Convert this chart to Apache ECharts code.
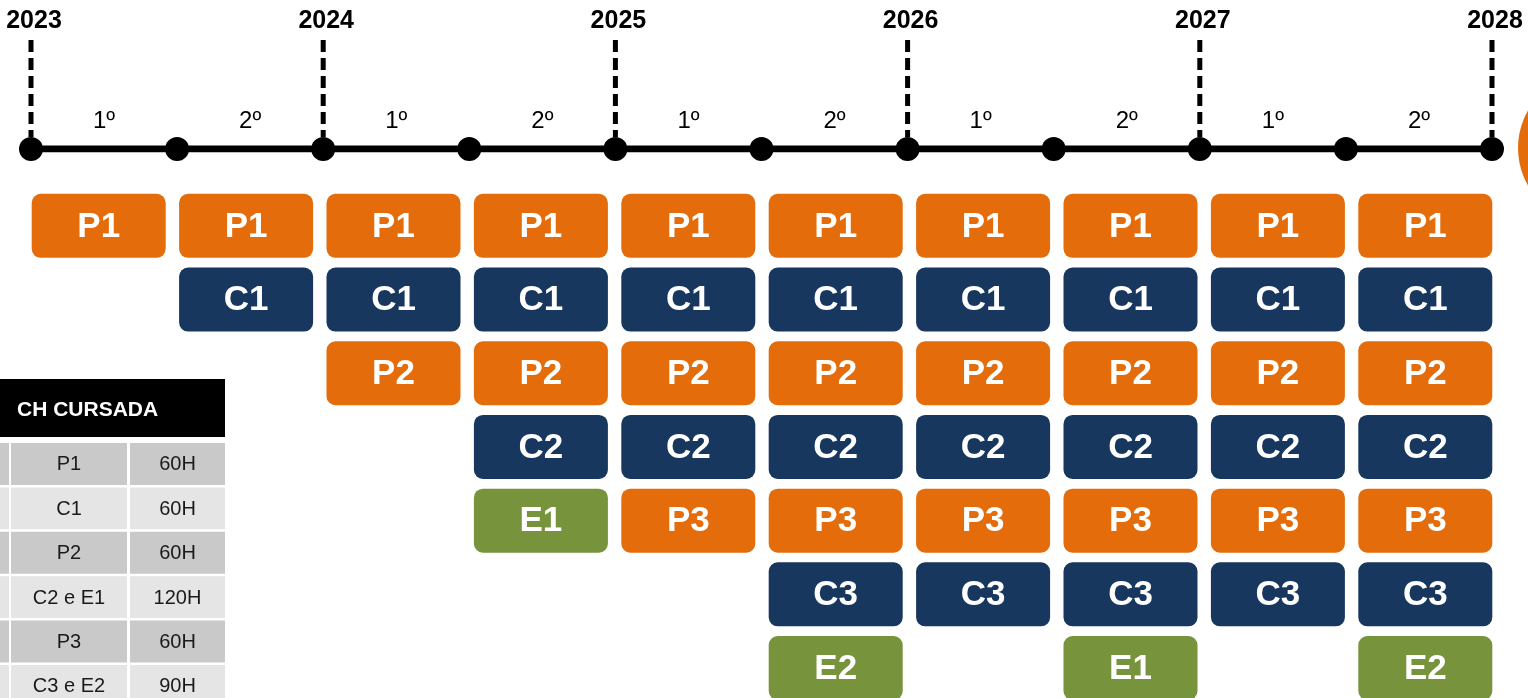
<!DOCTYPE html>
<html>
<head>
<meta charset="utf-8">
<script src="https://cdn.jsdelivr.net/npm/echarts@6/dist/echarts.min.js"></script>
<style>
  html, body { margin: 0; padding: 0; background: #fff; }
  #main { width: 1528px; height: 698px; }
</style>
</head>
<body>
<div id="main"></div>
<script>
// dados
const years = ['2023', '2024', '2025', '2026', '2027', '2028'];
const semesters = ['1º', '2º', '1º', '2º', '1º', '2º', '1º', '2º', '1º', '2º'];
const semesterCourses = [
  ['P1'],
  ['P1', 'C1'],
  ['P1', 'C1', 'P2'],
  ['P1', 'C1', 'P2', 'C2', 'E1'],
  ['P1', 'C1', 'P2', 'C2', 'P3'],
  ['P1', 'C1', 'P2', 'C2', 'P3', 'C3', 'E2'],
  ['P1', 'C1', 'P2', 'C2', 'P3', 'C3'],
  ['P1', 'C1', 'P2', 'C2', 'P3', 'C3', 'E1'],
  ['P1', 'C1', 'P2', 'C2', 'P3', 'C3'],
  ['P1', 'C1', 'P2', 'C2', 'P3', 'C3', 'E2']
];
const tableTitle = 'CH CURSADA';
const tableSubjects = ['P1', 'C1', 'P2', 'C2 e E1', 'P3', 'C3 e E2'];
const tableHours = ['60H', '60H', '60H', '120H', '60H', '90H'];

// cores
const ORANGE = '#E46C0A';
const NAVY = '#17375E';
const GREEN = '#77933C';
const FONT = '"Liberation Sans", Arial, sans-serif';

const colorOf = (name) => {
  if (name[0] === 'P') return ORANGE;
  if (name[0] === 'C') return NAVY;
  return GREEN;
};

// pontos da linha do tempo (limites dos semestres)
const timelinePoints = [];
for (let i = 0; i <= semesters.length; i++) timelinePoints.push([i, 0]);

const yearData = years.map((y, i) => [i * 2, 0, y]);
const semesterData = semesters.map((s, i) => [i + 0.5, 0, s]);

const boxData = [];
semesterCourses.forEach((list, col) => {
  list.forEach((name, row) => boxData.push([col + 0.5, row + 0.5, name]));
});

const tableData = [];
tableSubjects.forEach((s, row) => {
  tableData.push([0, row, '']);
  tableData.push([1, row, s]);
  tableData.push([2, row, tableHours[row]]);
});
// bordas das colunas da tabela (px a partir da esquerda do grid)
const colEdges = [[-200, 9], [11, 127], [130, 225]];

// passo das linhas (px) — os grids terminam na borda da tela
const BOX_TOP = 189, BOX_STEP = 73.7;
const TABLE_TOP = 443, TABLE_STEP = 44.4;
const H = 698;

const chart = echarts.init(document.getElementById('main'));

const option = {
  animation: false,
  grid: [
    { left: 31, right: 36, top: 40, height: 109 },
    { left: 25, width: 1474, top: BOX_TOP, height: H - BOX_TOP },
    { left: 0, width: 225, top: TABLE_TOP, height: H - TABLE_TOP }
  ],
  xAxis: [
    { gridIndex: 0, type: 'value', min: 0, max: 10, show: false },
    { gridIndex: 1, type: 'value', min: 0, max: 10, show: false },
    { gridIndex: 2, type: 'value', min: 0, max: 3, show: false }
  ],
  yAxis: [
    { gridIndex: 0, type: 'value', min: 0, max: 1, show: false },
    { gridIndex: 1, type: 'value', min: 0, max: (H - BOX_TOP) / BOX_STEP, inverse: true, show: false },
    { gridIndex: 2, type: 'value', min: 0, max: (H - TABLE_TOP) / TABLE_STEP, inverse: true, show: false }
  ],
  graphic: [
    {
      type: 'circle',
      shape: { cx: 1593, cy: 148, r: 75 },
      style: { fill: ORANGE },
      z: 0
    }
  ],
  series: [
    // linhas tracejadas dos anos
    {
      type: 'custom',
      xAxisIndex: 0,
      yAxisIndex: 0,
      data: yearData,
      clip: false,
      z: 1,
      renderItem: (params, api) => {
        const p0 = api.coord([api.value(0), 0]);
        const p1 = api.coord([api.value(0), 1]);
        return {
          type: 'group',
          children: [
            {
              type: 'line',
              shape: { x1: p0[0], y1: p1[1], x2: p0[0], y2: p0[1] - 12 },
              style: { stroke: '#000', lineWidth: 5, lineDash: [12, 6] }
            },
            {
              type: 'text',
              style: {
                text: yearData[params.dataIndex][2],
                x: p0[0] + 3,
                y: p1[1] - 19,
                align: 'center',
                verticalAlign: 'middle',
                fill: '#000',
                font: 'bold 25px ' + FONT
              }
            }
          ]
        };
      }
    },
    // linha do tempo
    {
      type: 'line',
      xAxisIndex: 0,
      yAxisIndex: 0,
      data: timelinePoints,
      symbol: 'circle',
      symbolSize: 24,
      itemStyle: { color: '#000' },
      lineStyle: { color: '#000', width: 7 },
      z: 3
    },
    // rótulos dos semestres
    {
      type: 'custom',
      xAxisIndex: 0,
      yAxisIndex: 0,
      data: semesterData,
      clip: false,
      renderItem: (params, api) => {
        const p = api.coord([api.value(0), 0]);
        return {
          type: 'text',
          style: {
            text: semesterData[params.dataIndex][2],
            x: p[0],
            y: p[1] - 28,
            align: 'center',
            verticalAlign: 'middle',
            fill: '#000',
            font: '24px ' + FONT
          }
        };
      }
    },
    // caixas das disciplinas
    {
      type: 'custom',
      xAxisIndex: 1,
      yAxisIndex: 1,
      data: boxData,
      clip: false,
      renderItem: (params, api) => {
        const c = api.coord([api.value(0), api.value(1)]);
        const name = boxData[params.dataIndex][2];
        const w = 134, h = 64;
        return {
          type: 'group',
          children: [
            {
              type: 'rect',
              shape: { x: c[0] - w / 2, y: c[1] - h / 2, width: w, height: h, r: 9 },
              style: { fill: colorOf(name) }
            },
            {
              type: 'text',
              style: {
                text: name,
                x: c[0],
                y: c[1] + 1,
                align: 'center',
                verticalAlign: 'middle',
                fill: '#fff',
                font: 'bold 35px ' + FONT
              }
            }
          ]
        };
      }
    },
    // cabeçalho da tabela
    {
      type: 'custom',
      xAxisIndex: 2,
      yAxisIndex: 2,
      data: [[0, 0, tableTitle]],
      clip: false,
      renderItem: (params, api) => {
        const p = api.coord([0, 0]);
        return {
          type: 'group',
          children: [
            {
              type: 'rect',
              shape: { x: p[0], y: p[1] - 64, width: 225, height: 58 },
              style: { fill: '#000' }
            },
            {
              type: 'text',
              style: {
                text: tableTitle,
                x: p[0] + 17,
                y: p[1] - 33,
                align: 'left',
                verticalAlign: 'middle',
                fill: '#fff',
                font: 'bold 21px ' + FONT
              }
            }
          ]
        };
      }
    },
    // células da tabela
    {
      type: 'custom',
      xAxisIndex: 2,
      yAxisIndex: 2,
      data: tableData,
      clip: false,
      renderItem: (params, api) => {
        const col = api.value(0);
        const row = api.value(1);
        const top = api.coord([0, row]);
        const bottom = api.coord([0, row + 1]);
        const left = top[0];
        const e = colEdges[col];
        const x0 = left + e[0], x1 = left + e[1];
        const y0 = top[1], y1 = bottom[1] - 2.5;
        return {
          type: 'group',
          children: [
            {
              type: 'rect',
              shape: { x: x0, y: y0, width: x1 - x0, height: y1 - y0 },
              style: { fill: row % 2 === 0 ? '#C9C9C9' : '#E5E5E5' }
            },
            {
              type: 'text',
              style: {
                text: tableData[params.dataIndex][2],
                x: (x0 + x1) / 2,
                y: (y0 + y1) / 2 + 1,
                align: 'center',
                verticalAlign: 'middle',
                fill: '#1a1a1a',
                font: '20px ' + FONT
              }
            }
          ]
        };
      }
    }
  ]
};

chart.setOption(option);
</script>
</body>
</html>
